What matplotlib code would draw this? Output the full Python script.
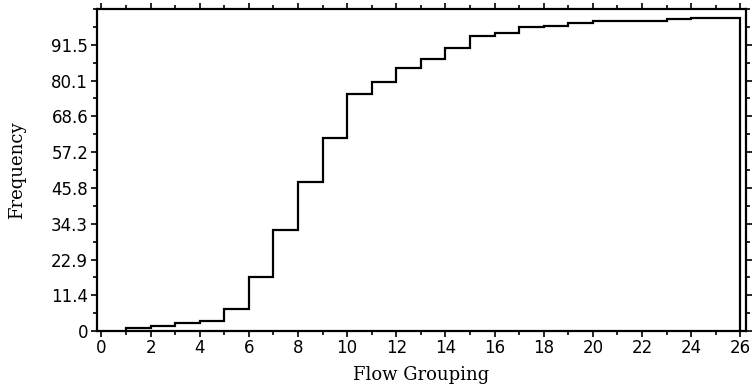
import numpy as np
import matplotlib
matplotlib.use("Agg")
import matplotlib.pyplot as plt
from matplotlib.ticker import FixedLocator, MultipleLocator

# ── Data ─────────────────────────────────────────────────────────────────────
bin_edges = [1, 2, 3, 4, 5, 6, 7, 8, 9, 10, 11, 12, 13, 14, 15, 16, 17, 18,
             19, 20, 21, 22, 23, 24, 25, 26]
cum_freq = [1.05, 1.6, 2.45, 3.3, 7.2, 17.3, 32.4, 47.5, 61.6, 75.9, 79.5,
            84.1, 86.9, 90.4, 94.3, 95.4, 97.1, 97.6, 98.6, 99.2, 99.2, 99.2,
            99.8, 100.0, 100.0]

y_ticks = [0, 11.4375, 22.875, 34.3125, 45.75, 57.1875, 68.625, 80.0625, 91.5]
y_tick_labels = ["0", "11.4", "22.9", "34.3", "45.8", "57.2", "68.6", "80.1", "91.5"]
x_ticks = list(range(0, 27, 2))

# ── Plot ─────────────────────────────────────────────────────────────────────
fig = plt.figure(figsize=(7.54, 3.90), dpi=100)
ax = fig.add_axes([0.128, 0.151, 0.862, 0.826])

ax.stairs(cum_freq, bin_edges, baseline=0, color="black", linewidth=1.6)

ax.set_xlim(-0.2, 26.25)
ax.set_ylim(0, 102.94)

ax.xaxis.set_major_locator(FixedLocator(x_ticks))
ax.xaxis.set_minor_locator(MultipleLocator(1))
ax.yaxis.set_major_locator(FixedLocator(y_ticks))
ax.set_yticklabels(y_tick_labels)
ax.yaxis.set_minor_locator(MultipleLocator(11.4375 / 2))

for s in ax.spines.values():
    s.set_linewidth(1.6)

ax.tick_params(which="both", direction="out", top=True, right=True,
               width=1.2, labelsize=12, pad=2)
ax.tick_params(which="major", length=4)
ax.tick_params(which="minor", length=3)

ax.set_xlabel("Flow Grouping", family="DejaVu Serif", fontsize=13, labelpad=6)
ax.set_ylabel("Frequency", family="DejaVu Serif", fontsize=13, labelpad=18)

fig.savefig("out.png", dpi=100)
